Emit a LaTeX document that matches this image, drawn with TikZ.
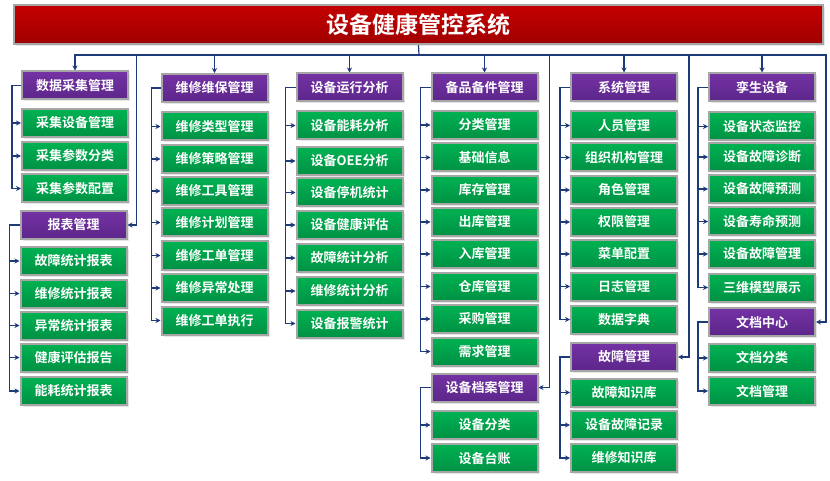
\documentclass[tikz,border=0pt]{standalone}
\usepackage{fontspec}
\setmainfont{Noto Sans CJK SC}[BoldFont={Noto Sans CJK SC Bold}]
\usepackage{tikz}
\usetikzlibrary{arrows.meta,shadows}
\pgfdeclarelayer{edgelayer}
\pgfdeclarelayer{nodelayer}
\pgfsetlayers{edgelayer,nodelayer,main}
\definecolor{linkblue}{HTML}{1F3A78}
\definecolor{boxgray}{HTML}{A6A6A6}
\tikzstyle{link}=[draw=linkblue, line width=1.2pt, -{Stealth[length=5pt,width=5pt]}]
\tikzstyle{bus}=[draw=linkblue, line width=1.2pt]
\tikzstyle{leaf}=[rectangle, draw=boxgray, line width=2pt, top color={rgb,255:red,0;green,178;blue,82}, bottom color={rgb,255:red,0;green,145;blue,68}, text=white, font=\bfseries\fontsize{13}{15}\selectfont, minimum width=106pt, minimum height=28pt, inner sep=0pt, drop shadow={opacity=0.2, shadow xshift=2pt, shadow yshift=-2pt}]
\tikzstyle{group}=[leaf, top color={rgb,255:red,116;green,50;blue,164}, bottom color={rgb,255:red,92;green,38;blue,138}]
\tikzstyle{banner}=[leaf, top color={rgb,255:red,196;green,0;blue,0}, bottom color={rgb,255:red,160;green,0;blue,0}, font=\bfseries\fontsize{23}{27}\selectfont, minimum width=809pt, minimum height=39pt]

\begin{document}
\begin{tikzpicture}[x=1pt, y=-1pt]
	\useasboundingbox (0, 0) rectangle (830, 481);
	\begin{pgfonlayer}{nodelayer}
		\node [style=banner] (0) at (418.5, 24.5) {设备健康管控系统};
		% column 1
		\node [style=group] (dc) at (75, 85.5) {数据采集管理};
		\node [style=leaf] (dc1) at (75, 123) {采集设备管理};
		\node [style=leaf] (dc2) at (75, 156) {采集参数分类};
		\node [style=leaf] (dc3) at (75, 188.5) {采集参数配置};
		\node [style=group] (rp) at (73.5, 225) {报表管理};
		\node [style=leaf] (rp1) at (73.5, 261) {故障统计报表};
		\node [style=leaf] (rp2) at (73.5, 293.5) {维修统计报表};
		\node [style=leaf] (rp3) at (73.5, 325.5) {异常统计报表};
		\node [style=leaf] (rp4) at (73.5, 357.5) {健康评估报告};
		\node [style=leaf] (rp5) at (73.5, 391) {能耗统计报表};
		% column 2
		\node [style=group] (mt) at (214.5, 88) {维修维保管理};
		\node [style=leaf] (mt1) at (214.5, 126.5) {维修类型管理};
		\node [style=leaf] (mt2) at (214.5, 159) {维修策略管理};
		\node [style=leaf] (mt3) at (214.5, 191) {维修工具管理};
		\node [style=leaf] (mt4) at (214.5, 222.5) {维修计划管理};
		\node [style=leaf] (mt5) at (214.5, 255.5) {维修工单管理};
		\node [style=leaf] (mt6) at (214.5, 288) {维修异常处理};
		\node [style=leaf] (mt7) at (214.5, 320.5) {维修工单执行};
		% column 3
		\node [style=group] (op) at (349.5, 87.5) {设备运行分析};
		\node [style=leaf] (op1) at (349.5, 125.5) {设备能耗分析};
		\node [style=leaf] (op2) at (349.5, 161) {设备OEE分析};
		\node [style=leaf] (op3) at (349.5, 192.5) {设备停机统计};
		\node [style=leaf] (op4) at (349.5, 225) {设备健康评估};
		\node [style=leaf] (op5) at (349.5, 258) {故障统计分析};
		\node [style=leaf] (op6) at (349.5, 291) {维修统计分析};
		\node [style=leaf] (op7) at (349.5, 323.5) {设备报警统计};
		% column 4
		\node [style=group] (sp) at (484.5, 87.5) {备品备件管理};
		\node [style=leaf] (sp1) at (484.5, 125) {分类管理};
		\node [style=leaf] (sp2) at (484.5, 157.5) {基础信息};
		\node [style=leaf] (sp3) at (484.5, 190) {库存管理};
		\node [style=leaf] (sp4) at (484.5, 222) {出库管理};
		\node [style=leaf] (sp5) at (484.5, 254) {入库管理};
		\node [style=leaf] (sp6) at (484.5, 286.5) {仓库管理};
		\node [style=leaf] (sp7) at (484.5, 319) {采购管理};
		\node [style=leaf] (sp8) at (484.5, 351.5) {需求管理};
		\node [style=group] (ar) at (484.5, 387.5) {设备档案管理};
		\node [style=leaf] (ar1) at (484.5, 425) {设备分类};
		\node [style=leaf] (ar2) at (484.5, 458) {设备台账};
		% column 5
		\node [style=group] (sy) at (624, 87.5) {系统管理};
		\node [style=leaf] (sy1) at (624, 125.5) {人员管理};
		\node [style=leaf] (sy2) at (624, 157.5) {组织机构管理};
		\node [style=leaf] (sy3) at (624, 190) {角色管理};
		\node [style=leaf] (sy4) at (624, 222) {权限管理};
		\node [style=leaf] (sy5) at (624, 254) {菜单配置};
		\node [style=leaf] (sy6) at (624, 286.5) {日志管理};
		\node [style=leaf] (sy7) at (624, 319.5) {数据字典};
		\node [style=group] (ft) at (624, 357) {故障管理};
		\node [style=leaf] (ft1) at (624, 392.5) {故障知识库};
		\node [style=leaf] (ft2) at (624, 425) {设备故障记录};
		\node [style=leaf] (ft3) at (624, 458) {维修知识库};
		% column 6
		\node [style=group] (tw) at (762, 87.5) {孪生设备};
		\node [style=leaf] (tw1) at (762, 126.5) {设备状态监控};
		\node [style=leaf] (tw2) at (762, 157) {设备故障诊断};
		\node [style=leaf] (tw3) at (762, 189) {设备故障预测};
		\node [style=leaf] (tw4) at (762, 221.5) {设备寿命预测};
		\node [style=leaf] (tw5) at (762, 254) {设备故障管理};
		\node [style=leaf] (tw6) at (762, 287.5) {三维模型展示};
		\node [style=group] (dm) at (762, 322) {文档中心};
		\node [style=leaf] (dm1) at (762, 358) {文档分类};
		\node [style=leaf] (dm2) at (762, 391) {文档管理};
	\end{pgfonlayer}
	\begin{pgfonlayer}{edgelayer}
		\coordinate (hub) at (419, 55);
		\draw [style=bus] (0.south) -- (hub);
		% top level
		\draw [style=link] (hub) -| (dc.north);
		\draw [style=link] (hub) -| (mt.north);
		\draw [style=link] (hub) -| (op.north);
		\draw [style=link] (hub) -| (sp.north);
		\draw [style=link] (hub) -| (sy.north);
		\draw [style=link] (hub) -| (tw.north);
		\draw [style=link] (hub) -| ([xshift=9]rp.east) -- (rp.east);
		\draw [style=link] (hub) -| ([xshift=11]ar.east) -- (ar.east);
		\draw [style=link] (hub) -| ([xshift=11]ft.east) -- (ft.east);
		\draw [style=link] (hub) -| ([xshift=10]dm.east) -- (dm.east);
		% brackets
		\draw [style=link] (dc.west) -- ++(-9,0) |- (dc1.west);
		\draw [style=link] (dc.west) -- ++(-9,0) |- (dc2.west);
		\draw [style=link] (dc.west) -- ++(-9,0) |- (dc3.west);
		\draw [style=link] (rp.west) -- ++(-10,0) |- (rp1.west);
		\draw [style=link] (rp.west) -- ++(-10,0) |- (rp2.west);
		\draw [style=link] (rp.west) -- ++(-10,0) |- (rp3.west);
		\draw [style=link] (rp.west) -- ++(-10,0) |- (rp4.west);
		\draw [style=link] (rp.west) -- ++(-10,0) |- (rp5.west);
		\draw [style=link] (mt.west) -- ++(-9,0) |- (mt1.west);
		\draw [style=link] (mt.west) -- ++(-9,0) |- (mt2.west);
		\draw [style=link] (mt.west) -- ++(-9,0) |- (mt3.west);
		\draw [style=link] (mt.west) -- ++(-9,0) |- (mt4.west);
		\draw [style=link] (mt.west) -- ++(-9,0) |- (mt5.west);
		\draw [style=link] (mt.west) -- ++(-9,0) |- (mt6.west);
		\draw [style=link] (mt.west) -- ++(-9,0) |- (mt7.west);
		\draw [style=link] (op.west) -- ++(-10,0) |- (op1.west);
		\draw [style=link] (op.west) -- ++(-10,0) |- (op2.west);
		\draw [style=link] (op.west) -- ++(-10,0) |- (op3.west);
		\draw [style=link] (op.west) -- ++(-10,0) |- (op4.west);
		\draw [style=link] (op.west) -- ++(-10,0) |- (op5.west);
		\draw [style=link] (op.west) -- ++(-10,0) |- (op6.west);
		\draw [style=link] (op.west) -- ++(-10,0) |- (op7.west);
		\draw [style=link] (sp.west) -- ++(-10,0) |- (sp1.west);
		\draw [style=link] (sp.west) -- ++(-10,0) |- (sp2.west);
		\draw [style=link] (sp.west) -- ++(-10,0) |- (sp3.west);
		\draw [style=link] (sp.west) -- ++(-10,0) |- (sp4.west);
		\draw [style=link] (sp.west) -- ++(-10,0) |- (sp5.west);
		\draw [style=link] (sp.west) -- ++(-10,0) |- (sp6.west);
		\draw [style=link] (sp.west) -- ++(-10,0) |- (sp7.west);
		\draw [style=link] (sp.west) -- ++(-10,0) |- (sp8.west);
		\draw [style=link] (ar.west) -- ++(-10,0) |- (ar1.west);
		\draw [style=link] (ar.west) -- ++(-10,0) |- (ar2.west);
		\draw [style=link] (sy.west) -- ++(-10,0) |- (sy1.west);
		\draw [style=link] (sy.west) -- ++(-10,0) |- (sy2.west);
		\draw [style=link] (sy.west) -- ++(-10,0) |- (sy3.west);
		\draw [style=link] (sy.west) -- ++(-10,0) |- (sy4.west);
		\draw [style=link] (sy.west) -- ++(-10,0) |- (sy5.west);
		\draw [style=link] (sy.west) -- ++(-10,0) |- (sy6.west);
		\draw [style=link] (sy.west) -- ++(-10,0) |- (sy7.west);
		\draw [style=link] (ft.west) -- ++(-10,0) |- (ft1.west);
		\draw [style=link] (ft.west) -- ++(-10,0) |- (ft2.west);
		\draw [style=link] (ft.west) -- ++(-10,0) |- (ft3.west);
		\draw [style=link] (tw.west) -- ++(-10,0) |- (tw1.west);
		\draw [style=link] (tw.west) -- ++(-10,0) |- (tw2.west);
		\draw [style=link] (tw.west) -- ++(-10,0) |- (tw3.west);
		\draw [style=link] (tw.west) -- ++(-10,0) |- (tw4.west);
		\draw [style=link] (tw.west) -- ++(-10,0) |- (tw5.west);
		\draw [style=link] (tw.west) -- ++(-10,0) |- (tw6.west);
		\draw [style=link] (dm.west) -- ++(-10,0) |- (dm1.west);
		\draw [style=link] (dm.west) -- ++(-10,0) |- (dm2.west);
	\end{pgfonlayer}
\end{tikzpicture}
\end{document}
